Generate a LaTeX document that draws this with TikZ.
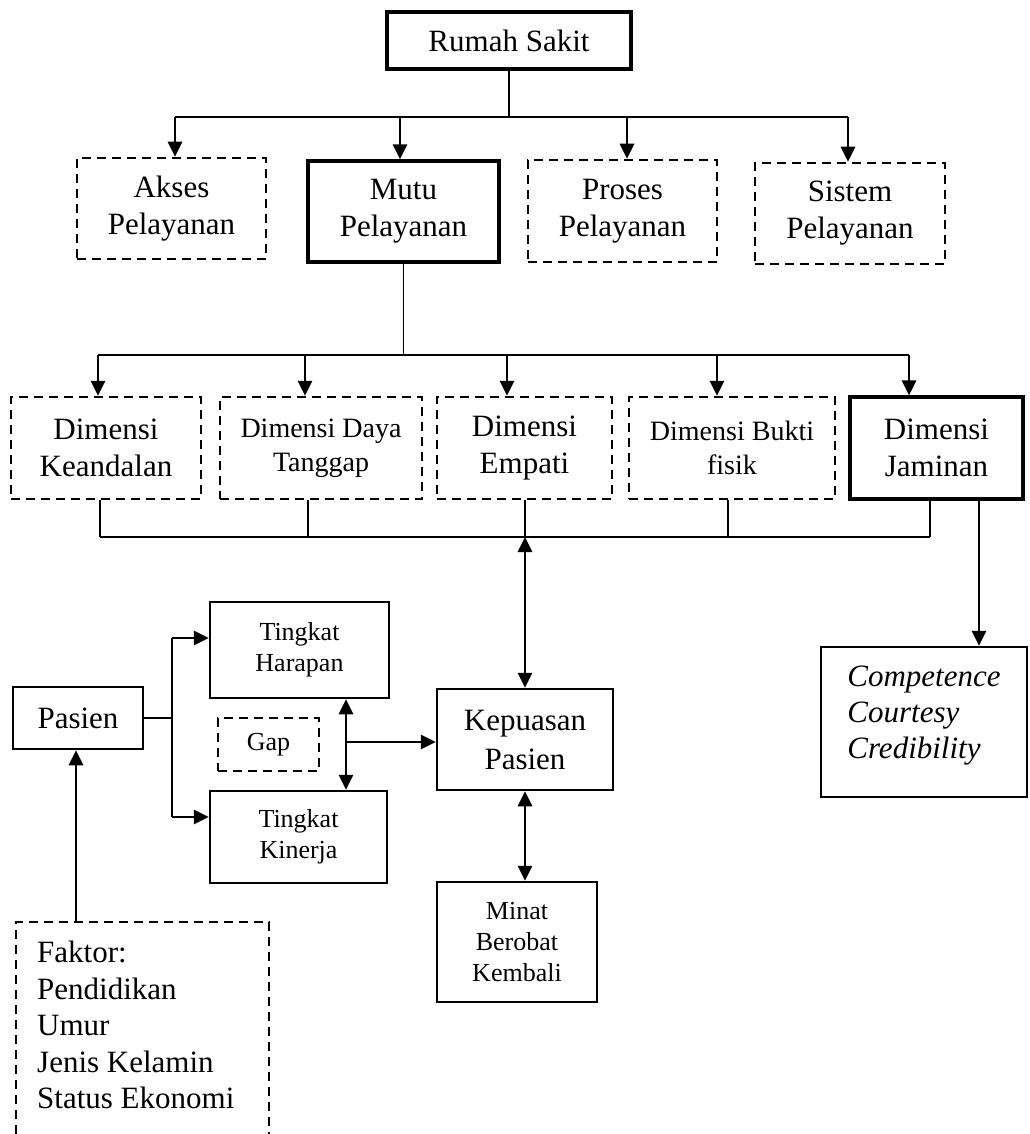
\documentclass[tikz,border=0pt]{standalone}
\usepackage{fontspec}
\setmainfont{Liberation Serif}
\usetikzlibrary{arrows.meta,calc}
\tikzset{
  box/.style={draw, line width=2.5pt, inner sep=0pt, align=center},
  thickbox/.style={box, line width=3.2pt},
  dbox/.style={box, dash pattern=on 9pt off 6pt},
  dline/.style={line width=2.5pt, dash pattern=on 9pt off 6pt},
  tip/.tip={Triangle[length=15pt,width=14pt]},
  arr/.style={line width=2.8pt, -tip},
  darr/.style={line width=2.8pt, tip-tip},
  ln/.style={line width=1.5pt},
  barln/.style={line width=2.4pt},
  bigtxt/.style={font=\fontsize{31pt}{37pt}\selectfont},
  midtxt/.style={font=\fontsize{28pt}{34pt}\selectfont},
  smalltxt/.style={font=\fontsize{26pt}{31pt}\selectfont},
  pastxt/.style={font=\fontsize{31pt}{36.5pt}\selectfont},
}
\begin{document}
\begin{tikzpicture}[x=1pt,y=-1pt]
\useasboundingbox (0,0) rectangle (1029,1134);

% top level
\node[thickbox, bigtxt, minimum width=244pt, minimum height=57pt] (rs) at (509,40.5) {Rumah Sakit};
\node[dbox, bigtxt, minimum width=189pt, minimum height=101pt] (akses) at (171.5,208.5) {Akses\\Pelayanan};
\node[thickbox, bigtxt, minimum width=191pt, minimum height=101pt] (mutu) at (403.5,211.5) {Mutu\\Pelayanan};
\node[dbox, bigtxt, minimum width=189pt, minimum height=102pt] (proses) at (622.5,211) {Proses\\Pelayanan};
\node[dbox, bigtxt, minimum width=190pt, minimum height=101pt] (sistem) at (850,213.5) {Sistem\\Pelayanan};

\coordinate (a1) at (175,117);
\coordinate (a2) at (400,117);
\coordinate (a3) at (627,117);
\coordinate (a4) at (848,117);
\draw[ln] (rs.south) -- (rs.south |- a1);
\draw[barln] (a1) -- (a4);
\draw[arr] (a1) -- (a1 |- akses.north);
\draw[arr] (a2) -- (a2 |- mutu.north);
\draw[arr] (a3) -- (a3 |- proses.north);
\draw[arr] (a4) -- (a4 |- sistem.north);

% dimensions
\node[dbox, bigtxt, minimum width=190pt, minimum height=102pt] (kean) at (106,448) {Dimensi\\Keandalan};
\node[dbox, midtxt, minimum width=202pt, minimum height=102pt] (daya) at (321,448) {Dimensi Daya\\Tanggap};
\node[dbox, bigtxt, minimum width=175pt, minimum height=102pt] (empati) at (524.5,448) {Dimensi\\Empati};
\node[dbox, midtxt, minimum width=206pt, minimum height=102pt] (bukti) at (732,448) {Dimensi Bukti\\fisik};
\node[thickbox, bigtxt, minimum width=173pt, minimum height=102pt] (jaminan) at (936.5,448) {Dimensi\\Jaminan};

\coordinate (m1) at (98,355);
\coordinate (m2) at (305,355);
\coordinate (m3) at (507,355);
\coordinate (m4) at (717,355);
\coordinate (m5) at (909,355);
\draw[ln] (mutu.south) -- (mutu.south |- m1);
\draw[barln] (m1) -- (m5);
\draw[arr] (m1) -- (m1 |- kean.north);
\draw[arr] (m2) -- (m2 |- daya.north);
\draw[arr] (m3) -- (m3 |- empati.north);
\draw[arr] (m4) -- (m4 |- bukti.north);
\draw[arr] (m5) -- (m5 |- jaminan.north);

\coordinate (c1) at (100,537);
\coordinate (c2) at (308,537);
\coordinate (c3) at (525,537);
\coordinate (c4) at (728,537);
\coordinate (c5) at (930,537);
\draw[ln] (kean.south -| c1) -- (c1);
\draw[ln] (daya.south -| c2) -- (c2);
\draw[ln] (empati.south -| c3) -- (c3);
\draw[ln] (bukti.south -| c4) -- (c4);
\draw[ln] (jaminan.south -| c5) -- (c5);
\draw[barln] (c1) -- (c5);

% lower part
\node[box, font=\fontsize{31pt}{39pt}\selectfont, minimum width=176pt, minimum height=101pt] (kepuasan) at (525,739.5) {Kepuasan\\Pasien};
\node[box, minimum width=206pt, minimum height=150pt, align=left, text depth=19pt,
      font=\itshape\fontsize{31pt}{36pt}\selectfont] (comp) at (924,722) {Competence\\Courtesy\\Credibility};
\node[box, smalltxt, minimum width=179pt, minimum height=96pt] (harapan) at (299.5,650) {Tingkat\\Harapan};
\node[box, smalltxt, minimum width=177pt, minimum height=92pt] (kinerja) at (298.5,837) {Tingkat\\Kinerja};
\node[dbox, smalltxt, minimum width=101pt, minimum height=53pt] (gap) at (268.5,744.5) {Gap};
\node[box, pastxt, minimum width=130pt, minimum height=62pt] (pasien) at (78,718) {Pasien};
\node[box, smalltxt, minimum width=160pt, minimum height=120pt] (minat) at (517,942) {Minat\\Berobat\\Kembali};

\draw[darr] (c3) -- (c3 |- kepuasan.north);
\coordinate (jx) at (979,0);
\draw[arr] (jaminan.south -| jx) -- (comp.north -| jx);

\coordinate (pf) at (172,719);
\coordinate (ph) at (172,638);
\coordinate (pk) at (172,817);
\draw[ln] (pasien.east) -- (pf |- pasien.east);
\draw[ln] (ph) -- (pk);
\draw[arr] (ph) -- (ph -| harapan.west);
\draw[arr] (pk) -- (pk -| kinerja.west);

\coordinate (gx) at (346,742);
\draw[darr] (harapan.south -| gx) -- (kinerja.north -| gx);
\draw[arr] (gx) -- (gx -| kepuasan.west);
\draw[darr] (kepuasan.south) -- (kepuasan.south |- minat.north);

% faktor box (open at the bottom)
\coordinate (fbl) at (16,1134);
\coordinate (ftl) at (16,922);
\coordinate (ftr) at (269,922);
\coordinate (fbr) at (269,1134);
\draw[dline] (fbl) -- (ftl) -- (ftr) -- (fbr);
\node[anchor=north west, inner sep=0pt, align=left, pastxt] (faktor) at (37,941)
  {Faktor:\\Pendidikan\\Umur\\Jenis Kelamin\\Status Ekonomi};
\coordinate (fa) at (76,922);
\draw[arr] (fa) -- (fa |- pasien.south);
\end{tikzpicture}
\end{document}
